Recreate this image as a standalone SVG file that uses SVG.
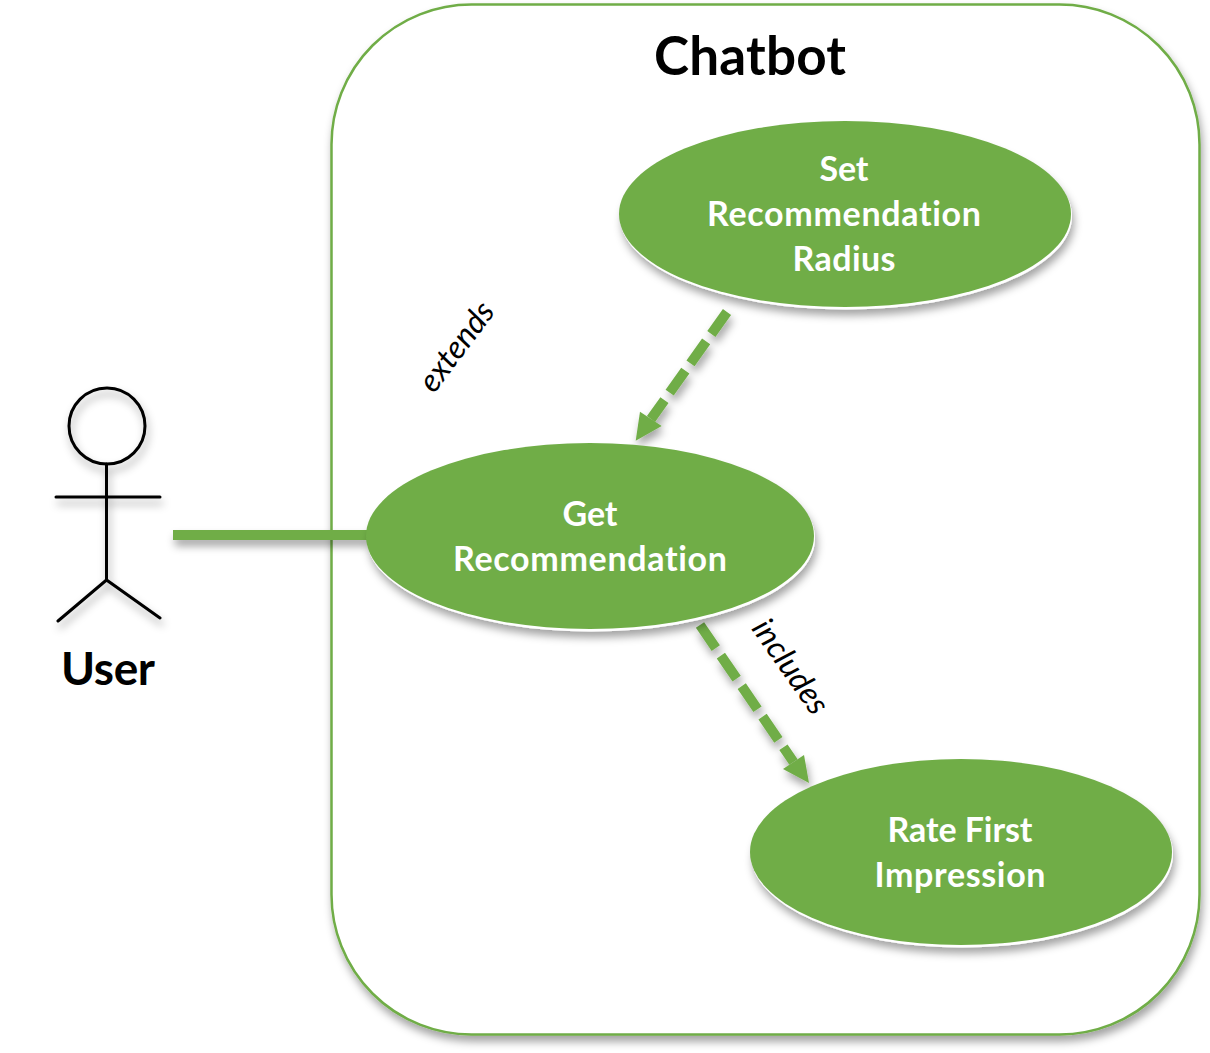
<svg xmlns="http://www.w3.org/2000/svg" width="1210" height="1053" viewBox="0 0 1210 1053">
<defs>
<filter id="sh" x="-15%" y="-15%" width="130%" height="130%"><feDropShadow dx="2" dy="6" stdDeviation="4" flood-color="#000" flood-opacity="0.36"/></filter>
</defs>
<style>
text{font-family:Lato,Carlito,"Open Sans",sans-serif;text-anchor:middle;font-variant-ligatures:none}
.n{fill:#fff;font-weight:700;font-size:34px}
.t{fill:#000;font-weight:700}
.l{fill:#000;font-style:italic}
.e{fill:#70ad47}
.w{fill:#fff;filter:url(#sh)}
.a{fill:none;stroke:#000;stroke-width:3;stroke-linecap:round}
.c{fill:none;stroke:#70ad47;stroke-width:10}
</style>
<rect width="1210" height="1053" fill="#fff"/>
<g id="system"><rect x="331.500" y="4.500" width="868" height="1030" rx="140" ry="140" fill="#fff" stroke="#70ad47" stroke-width="2.500" filter="url(#sh)"/>
<text class="t" x="750" y="75" font-size="53" textLength="192">Chatbot</text></g>
<g id="connectors" filter="url(#sh)">
<line class="c" x1="173" y1="535" x2="368" y2="535"/>
<path class="c" d="M727 312L651 419" stroke-dasharray="27 9"/>
<path d="M635.700 440.700L640 411.700L661.700 426Z" fill="#70ad47"/>
<path class="c" d="M700 625L793.500 762" stroke-dasharray="28 9"/>
<path d="M809 783L783 769L804 755Z" fill="#70ad47"/>
</g>
<g id="actor-user"><g filter="url(#sh)">
<circle class="a" cx="107" cy="426" r="38"/>
<path class="a" d="M106.500 464V580M56 497H160M58 621L106.500 580L160 618"/></g>
<text class="t" x="108" y="685" font-size="46" textLength="94">User</text></g>
<g id="set-radius"><ellipse class="w" cx="846" cy="216.500" rx="226" ry="93"/><ellipse class="e" cx="845" cy="214" rx="226" ry="93"/>
<text class="n" x="844" y="180.500" textLength="49">Set</text><text class="n" x="844" y="225.500" textLength="274">Recommendation</text><text class="n" x="844" y="270.500" textLength="103">Radius</text></g>
<g id="get-recommendation"><ellipse class="w" cx="591" cy="538.500" rx="224" ry="93"/><ellipse class="e" cx="590" cy="536" rx="224" ry="93"/>
<text class="n" x="590" y="525.500" textLength="55">Get</text><text class="n" x="590" y="570.500" textLength="274">Recommendation</text></g>
<g id="rate-first"><ellipse class="w" cx="962" cy="854.500" rx="211" ry="93"/><ellipse class="e" cx="961" cy="852" rx="211" ry="93"/>
<text class="n" x="960" y="841.500" textLength="145">Rate First</text><text class="n" x="960" y="886.500" textLength="171">Impression</text></g>
<g id="labels">
<text class="l" font-size="32" transform="translate(457 347) rotate(-53)" x="0" y="10">extends</text>
<text class="l" font-size="32" transform="translate(790 667) rotate(55)" x="0" y="10">includes</text>
</g>
</svg>
